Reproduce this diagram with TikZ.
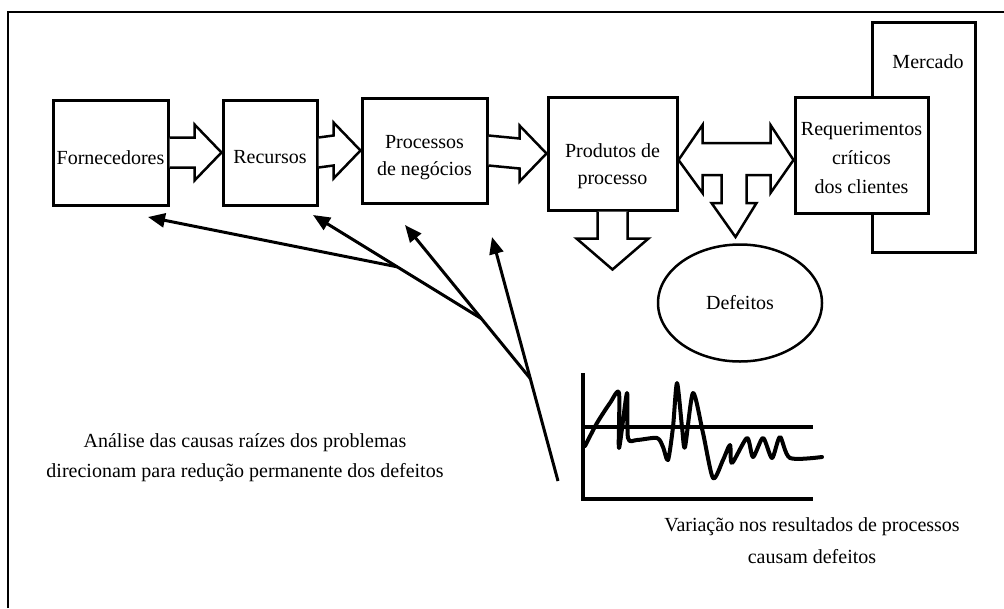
\documentclass[tikz,border=0pt]{standalone}
\usepackage{fontspec}
\setmainfont{Liberation Serif}
\usepackage{tikz}
\usetikzlibrary{arrows.meta,shapes.geometric}
\usetikzlibrary{positioning}
\usetikzlibrary{calc}
\def\fs{\fontsize{20}{27}\selectfont}
% hollow block arrow from the east side of #1 to the west side of #2
\newcommand{\pushto}[2]{%
  \draw[hollow] ($(#1.east)+(0,-15)$) -- ($(#2.west)+(-27,-15)$) -- ($(#2.west)+(-27,-28)$)
    -- (#2.west) -- ($(#2.west)+(-27,28)$) -- ($(#2.west)+(-27,15)$) -- ($(#1.east)+(0,15)$);}

\tikzset{
  box/.style={draw, rectangle, line width=3pt, fill=white, align=center, inner sep=2pt},
  hollow/.style={draw, line width=2.5pt, line join=miter, fill=white},
  pointer/.style={line width=3pt, -{Triangle[length=17pt,width=14pt]}},
  lbl/.style={align=center, inner sep=0pt},
  chart/.style={line width=4pt},
}

\begin{document}
\begin{tikzpicture}[x=1pt, y=-1pt, font=\fs]
    \useasboundingbox (0,0) rectangle (1004,608);
    \draw[line width=2pt] (8,608) -- (8,12) -- (1004,12);

    % market behind the client box
    \node[box, minimum width=103, minimum height=230] (merc) at (923.5,137) {};
    \node[lbl] (merclbl) at (928,62) {Mercado};

    \node[box, minimum width=115, minimum height=105,
          label={[lbl, yshift=-5]center:Fornecedores}] (forn) at (110.5,152.5) {};
    \node[box, minimum width=94, minimum height=105,
          label={[lbl, yshift=-5]center:Recursos}] (recur) at (270,152.5) {};
    \node[box, minimum width=125, minimum height=105,
          label={[lbl, yshift=-7]center:Processos\\de negócios}] (proc) at (424.5,150.5) {};
    \node[box, minimum width=129, minimum height=113,
          label={[lbl, yshift=-13]center:Produtos de\\processo}] (prod) at (612.5,153.5) {};
    \node[box, minimum width=133, minimum height=116,
          label={[lbl, font=\fontsize{20}{29}\selectfont, yshift=-3]center:Requerimentos\\críticos\\dos clientes}] (req) at (861.5,155) {};
    \node[draw, ellipse, line width=2.5pt, minimum width=164, minimum height=117, inner sep=0pt] (defeitos) at (740,303) {Defeitos};

    \pushto{forn}{recur}
    \pushto{recur}{proc}
    \pushto{proc}{prod}

    % down from the products
    \draw[hollow] ($(prod.south)+(-15,0)$) -- ++(0,27) -- ++(-21,0) -- ($(prod.south)+(0,58)$)
        -- ++(36,-31) -- ++(-21,0) -- ++(0,-27);

    % products <-> clients, with a branch down to the defects
    \coordinate (tl) at (prod.east |- 0,160);
    \coordinate (tr) at (req.west |- 0,160);
    \draw[hollow] (tl) -- ++(24,-35) -- ++(0,18) -- ($(tr)+(-23,-17)$) -- ++(0,-18) -- (tr)
        -- ++(-23,33) -- ++(0,-18) -- ++(-24,0) -- ++(0,28) -- ++(10,0) -- ++(-21,34)
        -- ++(-24,-34) -- ++(10,0) -- ++(0,-28) -- ($(tl)+(24,15)$) -- ++(0,18) -- cycle;

    % root cause arrows
    \coordinate (root) at (558,481);
    \coordinate (tip4) at (492,237);
    \coordinate (tip3) at (405,225);
    \coordinate (tipR) at (313,215);
    \coordinate (tipF) at (148,217);
    \coordinate (j1) at ($(root)!0.42!(tip4)$);
    \coordinate (j2) at ($(j1)!0.39!(tip3)$);
    \coordinate (j3) at ($(j2)!0.5!(tipR)$);
    \draw[pointer] (root) -- (tip4);
    \draw[pointer] (j1) -- (tip3);
    \draw[pointer] (j2) -- (tipR);
    \draw[pointer] (j3) -- (tipF);

    % variation chart
    \draw[chart] (583,373) -- (583,499) -- (813,499);
    \draw[chart] (583,427) -- (813,427);
    \draw[chart, line join=round, line cap=round] plot[smooth, tension=0.45] coordinates {
        (585,446) (597,423) (610,403) (619,393) (619,448) (627,393) (628,438)
        (637,440) (657,438) (663,447) (668,460) (673,427) (677,383) (682,427)
        (685,447) (693,393) (703,433) (713,478) (723,460) (730,445) (732,463)
        (747,438) (753,457) (763,438) (772,458) (780,437) (790,458) (822,457)};

    \node[lbl, font=\fontsize{20}{30}\selectfont] (analise) at (245,458)
        {Análise das causas raízes dos problemas\\direcionam para redução permanente dos defeitos};
    \node[lbl, font=\fontsize{20}{32}\selectfont] (variacao) at (812,541)
        {Variação nos resultados de processos\\causam defeitos};
\end{tikzpicture}
\end{document}
